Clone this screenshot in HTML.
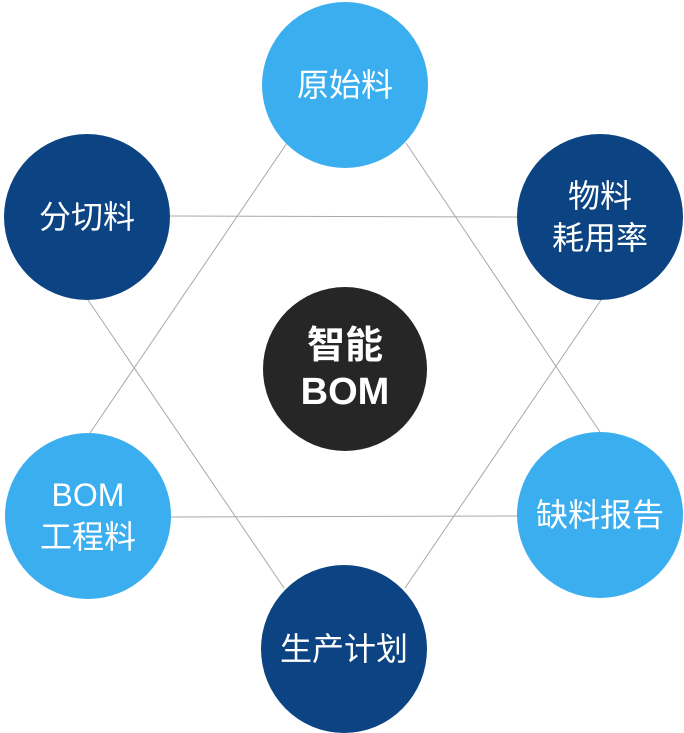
<!DOCTYPE html>
<html><head><meta charset="utf-8"><style>
html,body{margin:0;padding:0;background:#fff;width:684px;height:733px;overflow:hidden}
.c{position:absolute;border-radius:50%;display:flex;align-items:center;justify-content:center;text-align:center;color:#fff;font-family:"Liberation Sans","Noto Sans CJK SC",sans-serif;font-size:32px;line-height:42px}
.l{background:#3baeef}.d{background:#0c4483}
</style></head><body>
<svg width="684" height="733" style="position:absolute;left:0;top:0">
<g stroke="#a8a8a8" stroke-width="1" fill="none">
<line x1="287" y1="143" x2="90" y2="433"/>
<line x1="406" y1="143" x2="600" y2="432"/>
<line x1="170" y1="517" x2="517" y2="516"/>
<line x1="170" y1="216" x2="517" y2="217"/>
<line x1="88" y1="300" x2="284" y2="588"/>
<line x1="601" y1="300" x2="405" y2="588"/>
</g></svg>
<div class="c l" style="left:262px;top:2px;width:166px;height:166px">原始料</div>
<div class="c d" style="left:4px;top:134px;width:166px;height:166px">分切料</div>
<div class="c d" style="left:517px;top:134px;width:166px;height:166px">物料<br>耗用率</div>
<div class="c" style="left:263px;top:287px;width:164px;height:164px;background:#262626;font-weight:bold;font-size:38px;line-height:46px">智能<br>BOM</div>
<div class="c l" style="left:5px;top:433px;width:166px;height:166px">BOM<br>工程料</div>
<div class="c l" style="left:517px;top:432px;width:166px;height:166px">缺料报告</div>
<div class="c d" style="left:261px;top:565px;width:166px;height:168px">生产计划</div>
</body></html>
